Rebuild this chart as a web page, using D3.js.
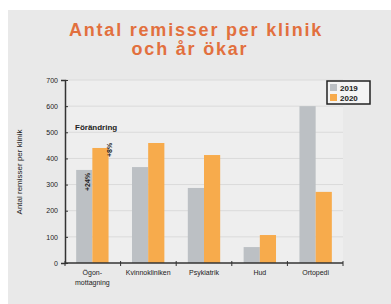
<!DOCTYPE html>
<html>
<head>
<meta charset="utf-8">
<script src="https://cdn.jsdelivr.net/npm/d3@7"></script>
<style>
  body { margin: 0; background: #fff; }
  svg { display: block; font-family: "Liberation Sans", Arial, sans-serif; }
</style>
</head>
<body>
<div id="chart"></div>
<script>
var categories = [["Ögon-", "mottagning"], ["Kvinnokliniken"], ["Psykiatrik"], ["Hud"], ["Ortopedi"]];
var series_names = ["2019", "2020"];
var values_2019 = [356, 367, 287, 61, 600];
var values_2020 = [440, 459, 413, 107, 272];
var y_ticks = [0, 100, 200, 300, 400, 500, 600, 700];
var colors = ["#bcc0c4", "#f7ab4c"];

var svg = d3.select("#chart").append("svg")
  .attr("width", 391)
  .attr("height", 304);

// panel background
svg.append("rect").attr("x", 8).attr("y", 10).attr("width", 383).attr("height", 294).attr("fill", "#e9e9e9");

var margin = { left: 65, right: 48, top: 80, bottom: 41 };
var width = 391 - margin.left - margin.right;
var height = 304 - margin.top - margin.bottom;

svg.append("rect").attr("x", margin.left).attr("y", margin.top)
  .attr("width", width).attr("height", height).attr("fill", "#eeeeee");

var g = svg.append("g").attr("transform", `translate(${margin.left}, ${margin.top})`);

var x_scale = d3.scaleBand().domain(d3.range(categories.length)).range([0, width]).paddingInner(0.42).paddingOuter(0.2);
var x_inner = d3.scaleBand().domain(series_names).range([0, x_scale.bandwidth()]);
var y_scale = d3.scaleLinear().domain([0, 700]).range([height, 0]);

// grid
g.selectAll(".grid").data(y_ticks.slice(1)).enter().append("line")
  .attr("x1", 0).attr("x2", width)
  .attr("y1", function(d) { return y_scale(d); })
  .attr("y2", function(d) { return y_scale(d); })
  .attr("stroke", "#dadada").attr("stroke-width", 1);

// bars
var rows = [values_2019, values_2020];
rows.forEach(function(vals, s) {
  g.selectAll(".bar" + s).data(vals).enter().append("rect")
    .attr("x", function(d, i) { return x_scale(i) + x_inner(series_names[s]); })
    .attr("y", function(d) { return y_scale(d); })
    .attr("width", x_inner.bandwidth())
    .attr("height", function(d) { return height - y_scale(d); })
    .attr("fill", colors[s]);
});

// y axis
var y_axis = d3.axisLeft(y_scale).tickValues(y_ticks).tickSize(4);
var ya = g.append("g").call(y_axis);
ya.select(".domain").attr("stroke", "#333").attr("stroke-width", 1.5);
ya.selectAll(".tick line").attr("x2", 3).attr("stroke", "#333");
ya.selectAll("text").attr("font-size", 7).attr("fill", "#222");

// x axis
var x_axis = g.append("g").attr("transform", `translate(0, ${height})`);
x_axis.append("line").attr("x1", 0).attr("x2", width).attr("stroke", "#333").attr("stroke-width", 1.5);
var step = width / categories.length;
x_axis.selectAll(".xt").data(d3.range(categories.length + 1)).enter().append("line")
  .attr("x1", function(d) { return d * step; }).attr("x2", function(d) { return d * step; })
  .attr("y1", -2).attr("y2", 3).attr("stroke", "#333");
x_axis.selectAll(".xl").data(categories).enter().append("text")
  .attr("x", function(d, i) { return x_scale(i) + x_scale.bandwidth() / 2; })
  .attr("y", 12)
  .attr("text-anchor", "middle")
  .attr("font-size", 7)
  .attr("fill", "#222")
  .each(function(d) {
    var t = d3.select(this);
    d.forEach(function(line, j) {
      t.append("tspan").attr("x", t.attr("x")).attr("dy", j === 0 ? 0 : 10).text(line);
    });
  });

// y label
svg.append("text")
  .attr("transform", "translate(22, 172) rotate(-90)")
  .attr("text-anchor", "middle")
  .attr("font-size", 8)
  .attr("fill", "#222")
  .text("Antal remisser per klinik");

// title
svg.append("text").attr("x", 196).attr("y", 36).attr("text-anchor", "middle")
  .attr("font-size", 18).attr("font-weight", "bold").attr("letter-spacing", 1.8)
  .attr("fill", "#e2703e").text("Antal remisser per klinik");
svg.append("text").attr("x", 190).attr("y", 55).attr("text-anchor", "middle")
  .attr("font-size", 18).attr("font-weight", "bold").attr("letter-spacing", 1.8)
  .attr("fill", "#e2703e").text("och år ökar");

// annotation
svg.append("text").attr("x", 75).attr("y", 130).attr("font-size", 8).attr("font-weight", "bold")
  .attr("fill", "#222").text("Förändring");
svg.append("text").attr("transform", `translate(${margin.left + x_scale(0) + x_inner.bandwidth() - 2}, ${margin.top + y_scale(values_2019[0]) + 12}) rotate(-90)`)
  .attr("text-anchor", "middle").attr("font-size", 7).attr("font-weight", "bold").attr("fill", "#222").text("+24%");
svg.append("text").attr("transform", `translate(${margin.left + x_scale(0) + x_scale.bandwidth() + 3}, ${margin.top + y_scale(values_2020[0]) + 2}) rotate(-90)`)
  .attr("text-anchor", "middle").attr("font-size", 7).attr("font-weight", "bold").attr("fill", "#222").text("+8%");

// legend
var lg = svg.append("g").attr("transform", "translate(327, 81)");
lg.append("rect").attr("width", 43).attr("height", 23).attr("fill", "#f4f4f4").attr("stroke", "#222").attr("stroke-width", 1.5);
series_names.forEach(function(name, i) {
  lg.append("rect").attr("x", 3).attr("y", 3 + i * 10).attr("width", 7).attr("height", 7).attr("fill", colors[i]);
  lg.append("text").attr("x", 13).attr("y", 9.5 + i * 10).attr("font-size", 8).attr("font-weight", "bold").attr("fill", "#222").text(name);
});
</script>
</body>
</html>
